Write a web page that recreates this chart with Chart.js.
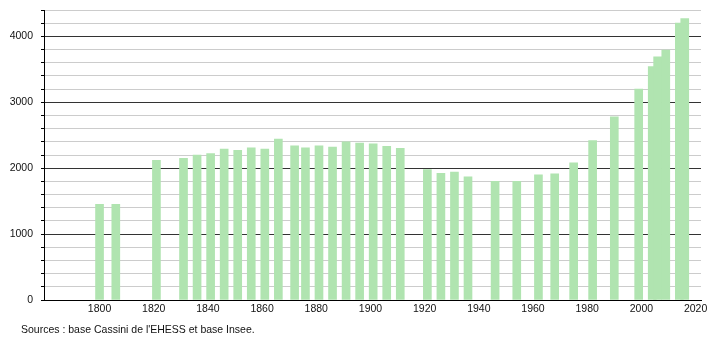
<!DOCTYPE html>
<html>
<head>
<meta charset="utf-8">
<script src="https://cdn.jsdelivr.net/npm/chart.js@4/dist/chart.umd.min.js"></script>
<style>
  html, body { margin: 0; padding: 0; background: #fff; }
  #wrap { position: relative; width: 710px; height: 340px; }
  #source {
    position: absolute; left: 21px; top: 323px;
    font-family: "Liberation Sans", Arial, sans-serif; font-size: 10.5px; color: #111;
  }
</style>
</head>
<body>
<div id="wrap">
  <canvas id="popChart" width="710" height="340"></canvas>
  <div id="source">Sources : base Cassini de l'EHESS et base Insee.</div>
</div>
<script>
const years = [1800, 1806, 1821, 1831, 1836, 1841, 1846, 1851, 1856, 1861, 1866,
  1872, 1876, 1881, 1886, 1891, 1896, 1901, 1906, 1911, 1921, 1926, 1931, 1936,
  1946, 1954, 1962, 1968, 1975, 1982, 1990, 1999, 2004, 2006, 2009, 2014, 2016];
const population = [1450, 1450, 2120, 2150, 2200, 2220, 2290, 2270, 2310, 2290, 2440,
  2340, 2310, 2340, 2320, 2400, 2380, 2370, 2330, 2300, 1980, 1920, 1940, 1870,
  1800, 1800, 1900, 1915, 2080, 2420, 2780, 3200, 3540, 3690, 3790, 4200, 4270];
const yearTicks = [1800, 1820, 1840, 1860, 1880, 1900, 1920, 1940, 1960, 1980, 2000, 2020];

const points = years.map((y, i) => ({ x: y, y: population[i] }));
const font = { family: "'Liberation Sans', Arial, sans-serif", size: 10.5 };

new Chart(document.getElementById("popChart"), {
  type: "bar",
  data: {
    datasets: [{
      data: points,
      backgroundColor: "rgb(176, 228, 176)",
      barThickness: 8
    }]
  },
  options: {
    responsive: false,
    animation: false,
    layout: { padding: { top: 10, right: 9, left: 0, bottom: 0 } },
    plugins: {
      legend: { display: false },
      tooltip: { enabled: false }
    },
    scales: {
      x: {
        type: "linear",
        offset: false,
        min: 1779.5,
        max: 2022,
        afterBuildTicks: scale => {
          scale.ticks = yearTicks.map(v => ({ value: v }));
        },
        afterFit: scale => {
          scale.height = 40;
          scale.paddingLeft = 0;
          scale.paddingRight = 0;
        },
        grid: { display: false },
        border: { display: true, color: "#000", width: 1 },
        ticks: { font: font, color: "#111", padding: -5, maxRotation: 0, autoSkip: false,
          callback: v => String(v) }
      },
      y: {
        min: 0,
        max: 4400,
        afterFit: scale => {
          scale.width = 44;
          scale.paddingTop = 0;
          scale.paddingBottom = 0;
        },
        border: { display: true, color: "#000", width: 1 },
        grid: {
          color: ctx => (ctx.tick && ctx.tick.value % 1000 === 0) ? "#333" : "#ccc",
          tickColor: "#000",
          tickLength: 3,
          lineWidth: 1
        },
        ticks: {
          stepSize: 200,
          font: font,
          color: "#111",
          padding: 8,
          autoSkip: false,
          callback: v => (v % 1000 === 0 ? String(v) : "")
        }
      }
    }
  }
});
</script>
</body>
</html>
